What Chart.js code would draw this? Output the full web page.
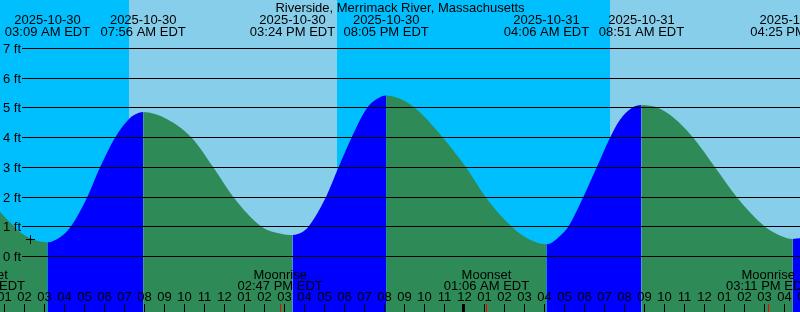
<!DOCTYPE html>
<html>
<head>
<meta charset="utf-8">
<script src="https://cdn.jsdelivr.net/npm/chart.js@4.4.1/dist/chart.umd.min.js"></script>
<style>
html,body{margin:0;padding:0;background:#fff;}
canvas{display:block;}
</style>
</head>
<body>
<canvas id="c" width="800" height="312"></canvas>
<script>
// ---- data (hours counted from 2025-10-30 00:00 EDT) ----
const chartTitle = 'Riverside, Merrimack River, Massachusetts';

const tideHours = [0.775, 1.275, 1.775, 2.44, 3.15,
  3.775, 4.31, 5.14, 5.775, 6.525, 7.275, 7.61, 7.933,
  9.11, 10.36, 11.44, 12.44, 13.86, 14.775, 15.4,
  15.94, 16.2, 17.075, 17.7, 18.35, 19.125, 19.61, 20.083,
  20.675, 21.525, 22.925, 24.075, 25.05, 26.36, 27.275, 28.1,
  28.94, 29.19, 29.94, 30.61, 31.275, 31.775, 32.36, 32.85,
  33.69, 34.44, 35.44, 36.525, 37.61, 39.025, 39.775, 40.417, 40.775];
const tideFeet = [1.51, 1.15, 0.82, 0.57, 0.48,
  0.65, 1.0, 2.0, 3.0, 4.0, 4.66, 4.80, 4.86,
  4.63, 4.0, 3.0, 2.0, 1.0, 0.77, 0.72,
  0.84, 1.0, 2.0, 3.0, 4.0, 5.0, 5.3, 5.42,
  5.33, 5.0, 4.0, 3.0, 2.0, 1.0, 0.56, 0.41,
  0.8, 1.0, 2.0, 3.0, 4.0, 4.6, 5.0, 5.1,
  5.0, 4.68, 4.0, 3.0, 2.0, 1.0, 0.71, 0.59, 0.61];

const eventHours = [3.15, 7.933, 15.4, 20.083, 28.1, 32.85, 40.417];
const eventDates = ['2025-10-30', '2025-10-30', '2025-10-30', '2025-10-30', '2025-10-31', '2025-10-31', '2025-10-31'];
const eventTimes = ['03:09 AM EDT', '07:56 AM EDT', '03:24 PM EDT', '08:05 PM EDT', '04:06 AM EDT', '08:51 AM EDT', '04:25 PM EDT'];

const moonHours = [-0.083, 14.783, 25.1, 39.183];
const moonNames = ['Moonset', 'Moonrise', 'Moonset', 'Moonrise'];
const moonTimes = ['11:55 PM EDT', '02:47 PM EDT', '01:06 AM EDT', '03:11 PM EDT'];

const dayStartHours = [7.225, 31.275];
const dayEndHours = [17.625, 42];

const hourTicks = [0,1,2,3,4,5,6,7,8,9,10,11,12,13,14,15,16,17,18,19,20,21,22,23,24,25,26,27,28,29,30,31,32,33,34,35,36,37,38,39,40,41];
const hourLabels = ['12','01','02','03','04','05','06','07','08','09','10','11','12','01','02','03','04','05','06','07','08','09','10','11',
  '12','01','02','03','04','05','06','07','08','09','10','11','12','01','02','03','04','05'];
const midnightHours = [0, 24];

const feetTicks = [0,1,2,3,4,5,6,7];
const feetLabels = ['0 ft','1 ft','2 ft','3 ft','4 ft','5 ft','6 ft','7 ft'];

const markerHour = [2.3];
const markerFeet = [0.572];

// ---- style ----
const NIGHT = '#00BFFF', DAY = '#87CEEB', RISE = '#0000FF', FALL = '#2E8B57';
const FONT = '13px "Liberation Sans", Arial, Helvetica, sans-serif';

const tidePoints = tideHours.map((h, i) => ({x: h, y: tideFeet[i]}));
const markerPoints = markerHour.map((h, i) => ({x: h, y: markerFeet[i]}));

const decor = {
  id: 'decor',
  beforeDatasetsDraw(chart) {
    const {ctx, chartArea: a, scales: {x}} = chart;
    ctx.save();
    ctx.fillStyle = NIGHT;
    ctx.fillRect(a.left, a.top, a.right - a.left, a.bottom - a.top);
    ctx.fillStyle = DAY;
    for (let i = 0; i < dayStartHours.length; i++) {
      const x0 = Math.round(x.getPixelForValue(dayStartHours[i]));
      const x1 = Math.min(a.right, Math.round(x.getPixelForValue(dayEndHours[i])));
      ctx.fillRect(x0, a.top, x1 - x0, a.bottom - a.top);
    }
    ctx.restore();
  },
  afterDatasetsDraw(chart) {
    const {ctx, chartArea: a, scales: {x, y}} = chart;
    ctx.save();
    ctx.strokeStyle = '#000';
    ctx.lineWidth = 1;
    ctx.font = FONT;
    ctx.fillStyle = '#000';
    ctx.textAlign = 'left';
    ctx.textBaseline = 'alphabetic';
    feetTicks.forEach((v, i) => {
      const py = Math.floor(y.getPixelForValue(v)) + 0.5;
      ctx.beginPath();
      ctx.moveTo(22, py);
      ctx.lineTo(a.right, py);
      ctx.stroke();
      ctx.fillText(feetLabels[i], 3, py + 4.5);
    });
    ctx.textAlign = 'center';
    ctx.fillText(chartTitle, 400, 12);
    eventHours.forEach((h, i) => {
      const px = x.getPixelForValue(h);
      ctx.fillText(eventDates[i], px, 24);
      ctx.fillText(eventTimes[i], px, 36);
    });
    moonHours.forEach((h, i) => {
      const px = x.getPixelForValue(h);
      ctx.fillText(moonNames[i], px, 278.5);
      ctx.fillText(moonTimes[i], px, 290);
    });
    hourTicks.forEach((h, i) => {
      const px = Math.floor(x.getPixelForValue(h));
      ctx.fillText(hourLabels[i], px + 0.5, 301);
      ctx.fillRect(px, 304, 1, 8);
    });
    midnightHours.forEach(h => {
      const px = Math.floor(x.getPixelForValue(h));
      ctx.fillRect(px - 2, 304, 3, 8);
    });
    ctx.fillStyle = '#FF0000';
    moonHours.forEach(h => {
      const px = Math.floor(x.getPixelForValue(h));
      ctx.fillRect(px, 304, 1, 8);
    });
    ctx.restore();
  }
};

new Chart(document.getElementById('c'), {
  type: 'line',
  data: {
    datasets: [
      {
        label: 'Now',
        data: markerPoints,
        showLine: false,
        pointStyle: 'cross',
        pointRadius: 4.5,
        pointHoverRadius: 4.5,
        pointBorderColor: '#000',
        pointBorderWidth: 1,
        borderColor: '#000',
        fill: false
      },
      {
        label: 'Tide',
        data: tidePoints,
        fill: 'start',
        borderWidth: 0,
        borderColor: 'rgba(0,0,0,0)',
        backgroundColor: FALL,
        pointRadius: 0,
        pointHoverRadius: 0,
        tension: 0.4,
        cubicInterpolationMode: 'monotone',
        segment: {
          backgroundColor: c => (c.p1.parsed.y > c.p0.parsed.y ? RISE : FALL)
        }
      }
    ]
  },
  options: {
    responsive: false,
    animation: false,
    devicePixelRatio: 1,
    layout: {padding: 0, autoPadding: false},
    events: [],
    plugins: {legend: {display: false}, tooltip: {enabled: false}, title: {display: false}},
    scales: {
      x: {type: 'linear', min: 0.775, max: 40.775, display: false},
      y: {type: 'linear', min: -1.8678, max: 8.6323, display: false}
    }
  },
  plugins: [decor]
});
</script>
</body>
</html>
